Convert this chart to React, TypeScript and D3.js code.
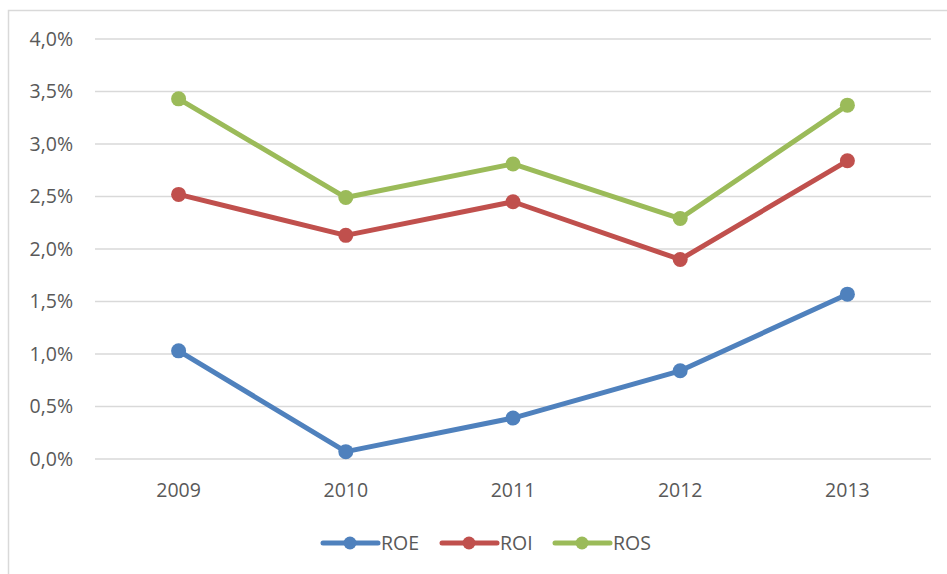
import React from "react";
import * as d3 from "d3";

const categories = ["2009", "2010", "2011", "2012", "2013"];
const roe = [1.03, 0.07, 0.39, 0.84, 1.57];
const roi = [2.52, 2.13, 2.45, 1.9, 2.84];
const ros = [3.43, 2.49, 2.81, 2.29, 3.37];
const yTicks = [0, 0.5, 1, 1.5, 2, 2.5, 3, 3.5, 4];
const seriesNames = ["ROE", "ROI", "ROS"];
const seriesColors = ["#4F81BD", "#C0504D", "#9BBB59"];

const W = 947;
const H = 574;
const FONT = "'Open Sans', 'Noto Sans', sans-serif";
const FS = 19.5;

export default function App() {
  const x = d3.scaleBand().domain(categories).range([95, 931]);
  const y = d3.scaleLinear().domain([0, 4]).range([459, 39]);
  const series = [roe, roi, ros];
  const line = d3
    .line<number>()
    .x((_, i) => (x(categories[i]) as number) + x.bandwidth() / 2)
    .y((d) => y(d));
  const fmt = (v: number) => v.toFixed(1).replace(".", ",") + "%";

  const legendX = [323, 442, 555];
  const legendY = 543;

  return (
    <svg
      width={W}
      height={H}
      style={{ position: "absolute", left: 0, top: 0, background: "#fff" }}
    >
      <rect x={8.5} y={10.5} width={W + 10} height={H + 10} fill="#fff" stroke="#d9d9d9" strokeWidth={1.5} />
      {yTicks.map((t) => (
        <g key={t}>
          <line x1={95} x2={931} y1={y(t)} y2={y(t)} stroke="#d9d9d9" strokeWidth={1.5} />
          <text
            x={73}
            y={y(t)}
            dy="0.35em"
            textAnchor="end"
            fontFamily={FONT}
            fontSize={FS}
            fill="#595959"
          >
            {fmt(t)}
          </text>
        </g>
      ))}
      {categories.map((c) => (
        <text
          key={c}
          x={(x(c) as number) + x.bandwidth() / 2}
          y={490}
          dy="0.35em"
          textAnchor="middle"
          fontFamily={FONT}
          fontSize={FS}
          fill="#595959"
        >
          {c}
        </text>
      ))}
      {series.map((s, si) => (
        <g key={seriesNames[si]}>
          <path
            d={line(s) || ""}
            fill="none"
            stroke={seriesColors[si]}
            strokeWidth={5}
            strokeLinejoin="round"
            strokeLinecap="round"
          />
          {s.map((v, i) => (
            <circle
              key={i}
              cx={(x(categories[i]) as number) + x.bandwidth() / 2}
              cy={y(v)}
              r={7.5}
              fill={seriesColors[si]}
            />
          ))}
        </g>
      ))}
      {seriesNames.map((n, i) => (
        <g key={n}>
          <line
            x1={legendX[i]}
            x2={legendX[i] + 55}
            y1={legendY}
            y2={legendY}
            stroke={seriesColors[i]}
            strokeWidth={5}
            strokeLinecap="round"
          />
          <circle cx={legendX[i] + 27} cy={legendY} r={6.5} fill={seriesColors[i]} />
          <text
            x={legendX[i] + 58}
            y={legendY}
            dy="0.35em"
            fontFamily={FONT}
            fontSize={FS}
            fill="#595959"
          >
            {n}
          </text>
        </g>
      ))}
    </svg>
  );
}
